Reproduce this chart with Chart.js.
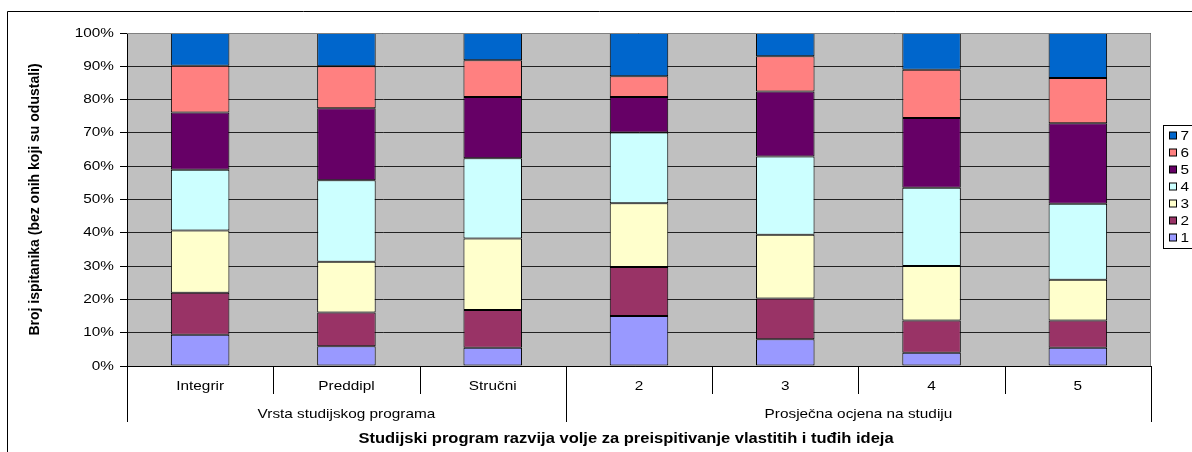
<!DOCTYPE html>
<html>
<head>
<meta charset="utf-8">
<script src="https://cdn.jsdelivr.net/npm/chart.js@4/dist/chart.umd.min.js"></script>
<style>
  html, body { margin: 0; padding: 0; background: #fff; overflow: hidden; }
  #wrap { width: 1192px; height: 452px; }
</style>
</head>
<body>
<div id="wrap"><canvas id="stackChart" width="1192" height="452"></canvas></div>
<script>
// categories and their groups
var categories = ["Integrir", "Preddipl", "Stručni", "2", "3", "4", "5"];
var groupLabels = ["Vrsta studijskog programa", "Prosječna ocjena na studiju"];
var groupSizes = [3, 4];

// share of answers per grade (percent)
var grade1 = [9.4, 5.9, 5.5, 15.0, 8.0, 4.0, 5.5];
var grade2 = [12.6, 10.2, 11.3, 14.7, 12.3, 9.7, 8.2];
var grade3 = [18.7, 15.2, 21.5, 19.2, 19.1, 16.3, 12.2];
var grade4 = [18.2, 24.5, 24.1, 21.2, 23.5, 23.5, 22.8];
var grade5 = [17.2, 21.6, 18.4, 10.7, 19.5, 21.0, 24.2];
var grade6 = [14.1, 12.6, 11.0, 6.2, 10.6, 14.5, 13.6];
var grade7 = [9.8, 10.0, 8.2, 13.0, 7.0, 11.0, 13.5];

var seriesNames = ["1", "2", "3", "4", "5", "6", "7"];
var seriesColors = ["#9999FF", "#993366", "#FFFFCC", "#CCFFFF", "#660066", "#FF8080", "#0066CC"];
var yTicks = [0, 10, 20, 30, 40, 50, 60, 70, 80, 90, 100];

var yTitle = "Broj ispitanika (bez onih koji su odustali)";
var xTitle = "Studijski program razvija volje za preispitivanje vlastitih i tuđih ideja";

var FONT = "Arial, 'Liberation Sans', sans-serif";
var STRETCH = 1.18; // the original text is a bit wider than plain Arial

var allSeries = [grade1, grade2, grade3, grade4, grade5, grade6, grade7];
var datasets = allSeries.map(function (vals, i) {
  return {
    label: seriesNames[i],
    data: vals,
    backgroundColor: seriesColors[i],
    borderColor: "#000",
    borderWidth: 1,
    borderSkipped: false,
    barPercentage: 0.4,
    categoryPercentage: 1.0
  };
});

function wideText(c, txt, x, y) {
  c.save();
  c.translate(x, y);
  c.scale(STRETCH, 1);
  c.fillText(txt, 0, 0);
  c.restore();
}

// background, frame, two level axis, titles and legend
var decor = {
  id: "decor",
  beforeDraw: function (chart) {
    var c = chart.ctx, a = chart.chartArea;
    c.save();
    c.fillStyle = "#fff";
    c.fillRect(0, 0, chart.width, chart.height);
    c.strokeStyle = "#000";
    c.lineWidth = 1;
    c.beginPath();
    c.moveTo(7.5, chart.height);
    c.lineTo(7.5, 11.5);
    c.lineTo(chart.width, 11.5);
    c.stroke();
    c.fillStyle = "#C0C0C0";
    c.fillRect(a.left, a.top, a.right - a.left, a.bottom - a.top);
    c.restore();
  },
  afterDraw: function (chart) {
    var c = chart.ctx, a = chart.chartArea, xs = chart.scales.x, ys = chart.scales.y;
    c.save();
    // plot border top/right
    c.strokeStyle = "#808080";
    c.lineWidth = 1;
    c.beginPath();
    c.moveTo(a.left, a.top + 0.5);
    c.lineTo(a.right - 0.5, a.top + 0.5);
    c.lineTo(a.right - 0.5, a.bottom);
    c.stroke();
    // x axis line
    c.strokeStyle = "#000";
    c.beginPath();
    c.moveTo(a.left - 7, Math.round(a.bottom) + 0.5);
    c.lineTo(a.right, Math.round(a.bottom) + 0.5);
    c.stroke();

    // y tick labels
    c.fillStyle = "#000";
    c.textBaseline = "middle";
    c.textAlign = "right";
    c.font = "13px " + FONT;
    yTicks.forEach(function (v) {
      wideText(c, v + "%", a.left - 13, ys.getPixelForValue(v));
    });

    // category boundaries
    var n = categories.length;
    var bounds = [a.left];
    for (var i = 1; i < n; i++) {
      bounds.push((xs.getPixelForValue(i - 1) + xs.getPixelForValue(i)) / 2);
    }
    bounds.push(a.right);
    var groupEdges = [0];
    groupSizes.forEach(function (s) { groupEdges.push(groupEdges[groupEdges.length - 1] + s); });
    var yb = Math.round(a.bottom);
    bounds.forEach(function (bx, k) {
      var deep = groupEdges.indexOf(k) >= 0;
      c.beginPath();
      c.moveTo(Math.round(bx) + 0.5, yb);
      c.lineTo(Math.round(bx) + 0.5, yb + (deep ? 56 : 28));
      c.stroke();
    });

    c.textAlign = "center";
    categories.forEach(function (lab, k) {
      wideText(c, lab, xs.getPixelForValue(k), yb + 20);
    });
    groupLabels.forEach(function (lab, g) {
      var x0 = bounds[groupEdges[g]], x1 = bounds[groupEdges[g + 1]];
      wideText(c, lab, (x0 + x1) / 2, yb + 48);
    });
    c.font = "bold 14px " + FONT;
    wideText(c, xTitle, 626, yb + 73);

    // y title
    c.save();
    c.translate(35, (a.top + a.bottom) / 2);
    c.rotate(-Math.PI / 2);
    c.fillText(yTitle, 0, 0);
    c.restore();

    // legend (cut by the right edge like the original)
    var lx = 1163.5, ly = 125.5, rowH = 17;
    c.fillStyle = "#fff";
    c.fillRect(lx, ly, 60, rowH * seriesNames.length + 4);
    c.strokeStyle = "#000";
    c.strokeRect(lx, ly, 60, rowH * seriesNames.length + 4);
    c.font = "13px " + FONT;
    c.textAlign = "left";
    for (var j = 0; j < seriesNames.length; j++) {
      var idx = seriesNames.length - 1 - j;
      var cy = ly + 10 + j * rowH;
      c.fillStyle = seriesColors[idx];
      c.fillRect(lx + 6, cy - 3.5, 7, 7);
      c.strokeStyle = "#000";
      c.strokeRect(lx + 6, cy - 3.5, 7, 7);
      c.fillStyle = "#000";
      wideText(c, seriesNames[idx], lx + 17, cy + 1);
    }
    c.restore();
  }
};

var ctx = document.getElementById("stackChart").getContext("2d");
var myChart = new Chart(ctx, {
  type: "bar",
  data: { labels: categories, datasets: datasets },
  options: {
    responsive: false,
    animation: false,
    layout: { padding: { left: 22, top: 33, right: 41, bottom: 86 } },
    plugins: { legend: { display: false }, tooltip: { enabled: false } },
    scales: {
      x: { stacked: true, display: false },
      y: {
        stacked: true,
        min: 0,
        max: 100,
        afterFit: function (s) { s.width = 105; },
        afterBuildTicks: function (s) { s.ticks = yTicks.map(function (v) { return { value: v }; }); },
        ticks: { display: false },
        grid: { color: "#222", lineWidth: 1, tickLength: 7, tickColor: "#000" },
        border: { display: true, color: "#000", width: 1 }
      }
    }
  },
  plugins: [decor]
});
</script>
</body>
</html>
